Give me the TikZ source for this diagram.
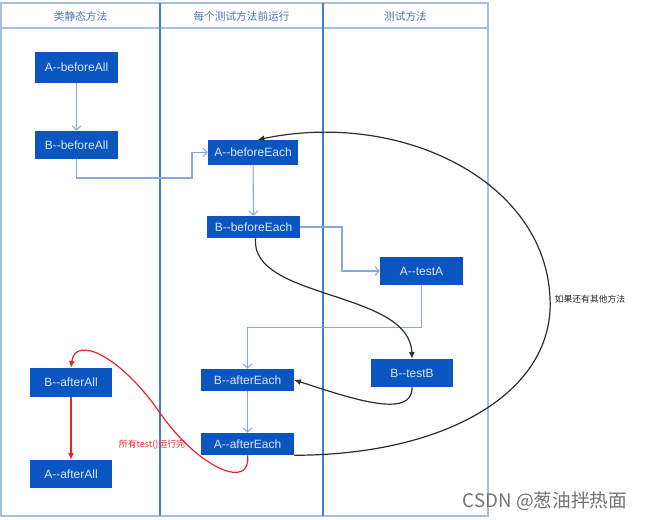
\documentclass[tikz,border=0pt]{standalone}
\usepackage{fontspec}
\setmainfont{Liberation Sans}
\newfontfamily\cjk{Noto Sans CJK SC}
\usetikzlibrary{arrows.meta}
\definecolor{boxblue}{HTML}{0A55C0}
\definecolor{boxtext}{HTML}{DCE7F7}
\definecolor{lanecol}{HTML}{3F7FD4}
\definecolor{framecol}{HTML}{A3C0E2}
\definecolor{conncol}{HTML}{86AADF}
\definecolor{headcol}{HTML}{4A74B8}
\definecolor{curvecol}{HTML}{2E2E2E}
\definecolor{redcol}{HTML}{E8262A}
\tikzset{
  box/.style 2 args={fill=boxblue, text=boxtext, inner sep=0pt, font=\fontsize{9}{10}\selectfont,
    minimum width=#1*0.75pt, minimum height=#2*0.75pt},
  conn/.style={draw=conncol, line width=0.8pt, -{Straight Barb[length=3pt,width=6.5pt]}},
  blk/.style={draw=curvecol, line width=0.9pt, -{Latex[length=5pt,width=4.5pt]}},
  redc/.style={draw=redcol, line width=0.9pt, -{Latex[length=5pt,width=4.5pt]}},
  head/.style={text=headcol, font=\cjk\fontsize{8}{9}\selectfont},
}
\begin{document}
\begin{tikzpicture}[x=0.75pt,y=-0.75pt]
\useasboundingbox[fill=white] (0,0) rectangle (647,520);
% swimlanes
\draw[framecol, line width=0.8pt] (1,3) rectangle (488,516);
\draw[framecol, line width=0.8pt] (1,28) -- (488,28);
\draw[lanecol, line width=0.8pt] (160,3) -- (160,516);
\draw[lanecol, line width=0.8pt] (323,3) -- (323,516);
\node[head] (h1) at (80.5,16) {类静态方法};
\node[head] (h2) at (241.5,16) {每个测试方法前运行};
\node[head] (h3) at (405.5,16) {测试方法};
% boxes
\node[box={83}{31}] (aBA) at (76.5,67.5) {A-{}-beforeAll};
\node[box={83}{28}] (bBA) at (76.5,145) {B-{}-beforeAll};
\node[box={90}{25}] (aBE) at (253,152.5) {A-{}-beforeEach};
\node[box={93}{22}] (bBE) at (253.5,227) {B-{}-beforeEach};
\node[box={83}{28}] (aTA) at (421.5,271) {A-{}-testA};
\node[box={82}{28}] (bTB) at (412,373) {B-{}-testB};
\node[box={82}{29}] (bAA) at (71,382.5) {B-{}-afterAll};
\node[box={82}{28}] (aAA) at (71,474) {A-{}-afterAll};
\node[box={93}{22}] (bAE) at (247.5,380) {B-{}-afterEach};
\node[box={93}{22}] (aAE) at (247.5,444) {A-{}-afterEach};
% blue connectors
\draw[conn] (aBA) -- (bBA);
\draw[conn] (bBA.south) |- (192,178) |- (aBE.west);
\draw[conn] (aBE) -- (bBE);
\draw[conn] (bBE.east) -| (342,271) -- (aTA.west);
\draw[conn] (aTA.south) -- ++(0,42) -| (bAE.north);
\draw[conn] (bAE) -- (aAE);
% black curves
\draw[blk] ([xshift=1.5pt]bBE.south) .. controls (250,300) and (410,290) .. (bTB.north);
\draw[blk] (bTB.south) .. controls (413,420) and (350,398) .. (bAE.east);
\draw[blk] (aAE.south east) .. controls (450,455) and (555,390) .. (550,298)
  .. controls (545,180) and (400,110) .. ([xshift=3.5pt]aBE.north);
\node[font=\cjk\fontsize{6.6}{8}\selectfont, text=black!85] (lbl1) at (590,299) {如果还有其他方法};
% red curves
\draw[redc] (aAE.south) .. controls (252,490) and (200,470) .. (160,413)
  .. controls (120,355) and (75,335) .. (bAA.north);
\draw[redc] (bAA) -- (aAA);
\node[font=\cjk\fontsize{6.7}{8}\selectfont, text=redcol] (lbl2) at (152,445) {所有test()运行完};
% watermark
\node[font=\cjk\fontsize{14}{15}\selectfont, text=black!55] (wm) at (545,501) {CSDN @葱油拌热面};
\end{tikzpicture}
\end{document}
